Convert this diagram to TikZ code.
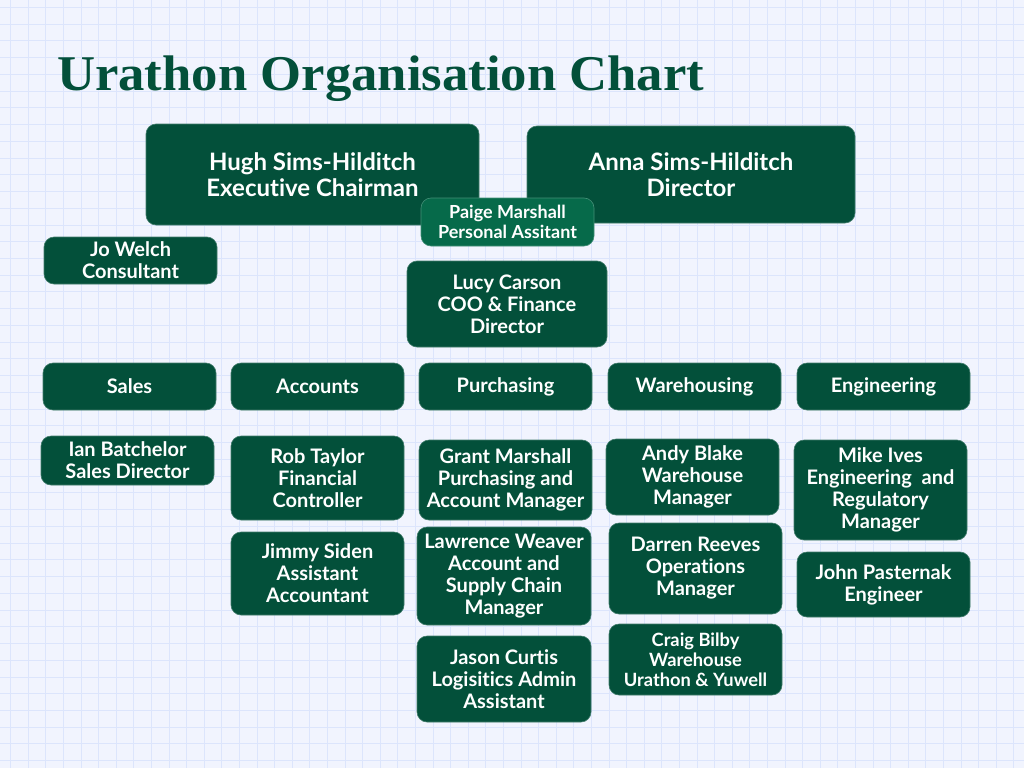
\documentclass[tikz,border=0pt]{standalone}
\usepackage{fontspec}
\setmainfont{Lato}[Ligatures={NoCommon,NoContextual}]
\newfontfamily\titlefont{Liberation Serif}
\definecolor{bgc}{HTML}{F1F4FE}
\definecolor{gridc}{HTML}{DCE5FC}
\definecolor{dg}{HTML}{03503A}
\definecolor{lg}{HTML}{066A4A}
\tikzset{
  box/.style={rounded corners=10pt, fill=dg, draw=dg!75!white, line width=0.6pt, align=center, text=white,
    font=\bfseries\fontsize{20}{22}\selectfont, inner sep=0pt},
  bigbox/.style={box, font=\bfseries\fontsize{24}{26}\selectfont},
  pabox/.style={box, fill=lg, draw=lg!75!white, font=\bfseries\fontsize{18}{20}\selectfont},
}
\begin{document}
\begin{tikzpicture}[x=1pt,y=-1pt]
\useasboundingbox (0,0) rectangle (1024,768);
\fill[bgc] (0,0) rectangle (1024,768);
\foreach \k in {0,...,58}{
  \pgfmathsetmacro{\gx}{10.5+17.6*\k}
  \draw[gridc, line width=0.8pt] (\gx,0) -- (\gx,768);
}
\foreach \k in {0,...,45}{
  \pgfmathsetmacro{\gy}{7.3+16.74*\k}
  \draw[gridc, line width=0.8pt] (0,\gy) -- (1024,\gy);
}
\node[anchor=base west, text=dg, inner sep=0pt, font=\titlefont\bfseries\fontsize{50}{56}\selectfont] (title) at (57,90) {\scalebox{1.054}[1]{Urathon Organisation Chart}};

\node[bigbox, minimum width=333pt, minimum height=101pt] (hugh) at (312.5,174.5) {Hugh Sims-Hilditch\\Executive Chairman};
\node[bigbox, minimum width=328pt, minimum height=97pt] (anna) at (691,174.5) {Anna Sims-Hilditch\\Director};
\node[pabox, minimum width=173pt, minimum height=48pt] (paige) at (507.5,222) {Paige Marshall\\Personal Assitant};
\node[box, minimum width=173pt, minimum height=47pt] (jo) at (130.5,260.5) {Jo Welch\\Consultant};
\node[box, minimum width=200pt, minimum height=86pt] (lucy) at (507,304) {Lucy Carson\\COO \& Finance\\Director};

\node[box, minimum width=173pt, minimum height=47pt] (sales) at (129.5,386.5) {Sales};
\node[box, minimum width=173pt, minimum height=47pt] (accounts) at (317.5,386.5) {Accounts};
\node[box, minimum width=173pt, minimum height=47pt] (purchasing) at (505.5,386.5) {Purchasing};
\node[box, minimum width=173pt, minimum height=47pt] (warehousing) at (694.5,386.5) {Warehousing};
\node[box, minimum width=173pt, minimum height=47pt] (engineering) at (883.5,386.5) {Engineering};

\node[box, minimum width=173pt, minimum height=49pt] (ian) at (127.5,460.5) {Ian Batchelor\\Sales Director};
\node[box, minimum width=173pt, minimum height=84pt] (rob) at (317.5,478) {Rob Taylor\\Financial\\Controller};
\node[box, minimum width=173pt, minimum height=83pt] (jimmy) at (317.5,573.5) {Jimmy Siden\\Assistant\\Accountant};
\node[box, minimum width=173pt, minimum height=80pt] (grant) at (505.5,480) {Grant Marshall\\Purchasing and\\Account Manager};
\node[box, minimum width=174pt, minimum height=98pt] (lawrence) at (504,576) {Lawrence Weaver\\Account and\\Supply Chain\\Manager};
\node[box, minimum width=174pt, minimum height=86pt] (jason) at (504,679) {Jason Curtis\\Logisitics Admin\\Assistant};
\node[box, minimum width=173pt, minimum height=76pt] (andy) at (692.5,477) {Andy Blake\\Warehouse\\Manager};
\node[box, minimum width=173pt, minimum height=91pt] (darren) at (695.5,568.5) {Darren Reeves\\Operations\\Manager};
\node[box, minimum width=173pt, minimum height=71pt, font=\bfseries\fontsize{18.3}{20}\selectfont] (craig) at (695.5,659.5) {Craig Bilby\\Warehouse\\Urathon \& Yuwell};
\node[box, minimum width=173pt, minimum height=100pt] (mike) at (880.5,490) {Mike Ives\\Engineering\ \ and\\Regulatory\\Manager};
\node[box, minimum width=173pt, minimum height=65pt] (john) at (883.5,584.5) {John Pasternak\\Engineer};
\end{tikzpicture}
\end{document}
